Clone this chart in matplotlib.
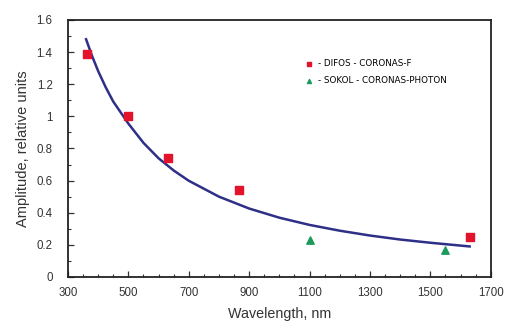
import matplotlib
matplotlib.use('Agg')
import matplotlib.pyplot as plt
from matplotlib.ticker import FixedLocator, MultipleLocator, FuncFormatter

# measured points
difos_wl = [362, 500, 630, 865, 1630]
difos_amp = [1.39, 1.00, 0.74, 0.54, 0.25]
sokol_wl = [1100, 1550]
sokol_amp = [0.23, 0.17]

# fitted curve
fit_wl = [360, 380, 400, 425, 450, 500, 550, 600, 650, 700, 800, 900,
          1000, 1100, 1200, 1300, 1400, 1500, 1630]
fit_amp = [1.48, 1.375, 1.282, 1.181, 1.092, 0.955, 0.835, 0.739, 0.663, 0.599,
           0.500, 0.426, 0.369, 0.324, 0.288, 0.258, 0.233, 0.213, 0.190]

x_ticks = [300, 500, 700, 900, 1100, 1300, 1500, 1700]
y_ticks = [0, 0.2, 0.4, 0.6, 0.8, 1.0, 1.2, 1.4, 1.6]

plt.rcParams['font.family'] = ['Liberation Sans', 'DejaVu Sans']

fig = plt.figure(figsize=(5.07, 3.27), dpi=100)
ax = fig.add_axes([0.134, 0.153, 0.834, 0.786])

ax.plot(fit_wl, fit_amp, color='#2e2f86', linewidth=1.8, zorder=2)
ax.scatter(difos_wl, difos_amp, marker='s', s=28, color='#e3132c',
           label='- DIFOS - CORONAS-F', zorder=3)
ax.scatter(sokol_wl, sokol_amp, marker='^', s=28, color='#1b9a5c',
           label='- SOKOL - CORONAS-PHOTON', zorder=3)

ax.set_xlim(300, 1700)
ax.set_ylim(0, 1.6)
ax.xaxis.set_major_locator(FixedLocator(x_ticks))
ax.xaxis.set_minor_locator(MultipleLocator(50))
ax.yaxis.set_major_locator(FixedLocator(y_ticks))
ax.yaxis.set_minor_locator(MultipleLocator(0.1))
ax.yaxis.set_major_formatter(FuncFormatter(lambda v, p: '%g' % round(v, 1)))

ax.tick_params(which='both', direction='in', top=False, right=False,
               colors='#333333', labelsize=8.3)
ax.tick_params(which='major', length=4, width=0.9)
ax.tick_params(axis='x', which='major', pad=7)
ax.tick_params(axis='y', which='major', pad=11)
ax.tick_params(which='minor', length=2, width=0.8)
for s in ax.spines.values():
    s.set_linewidth(1.3)
    s.set_color('#222222')

ax.set_xlabel('Wavelength, nm', fontsize=10.3, color='#333333', labelpad=6)
ax.set_ylabel('Amplitude, relative units', fontsize=10.5, color='#333333', labelpad=5)

ax.legend(loc='upper left', bbox_to_anchor=(0.54, 0.862), frameon=False,
          prop={'family': 'DejaVu Sans', 'size': 6.3}, handletextpad=0.05,
          labelspacing=0.95, markerscale=0.55, borderaxespad=0)

fig.savefig('out.png', dpi=100)
